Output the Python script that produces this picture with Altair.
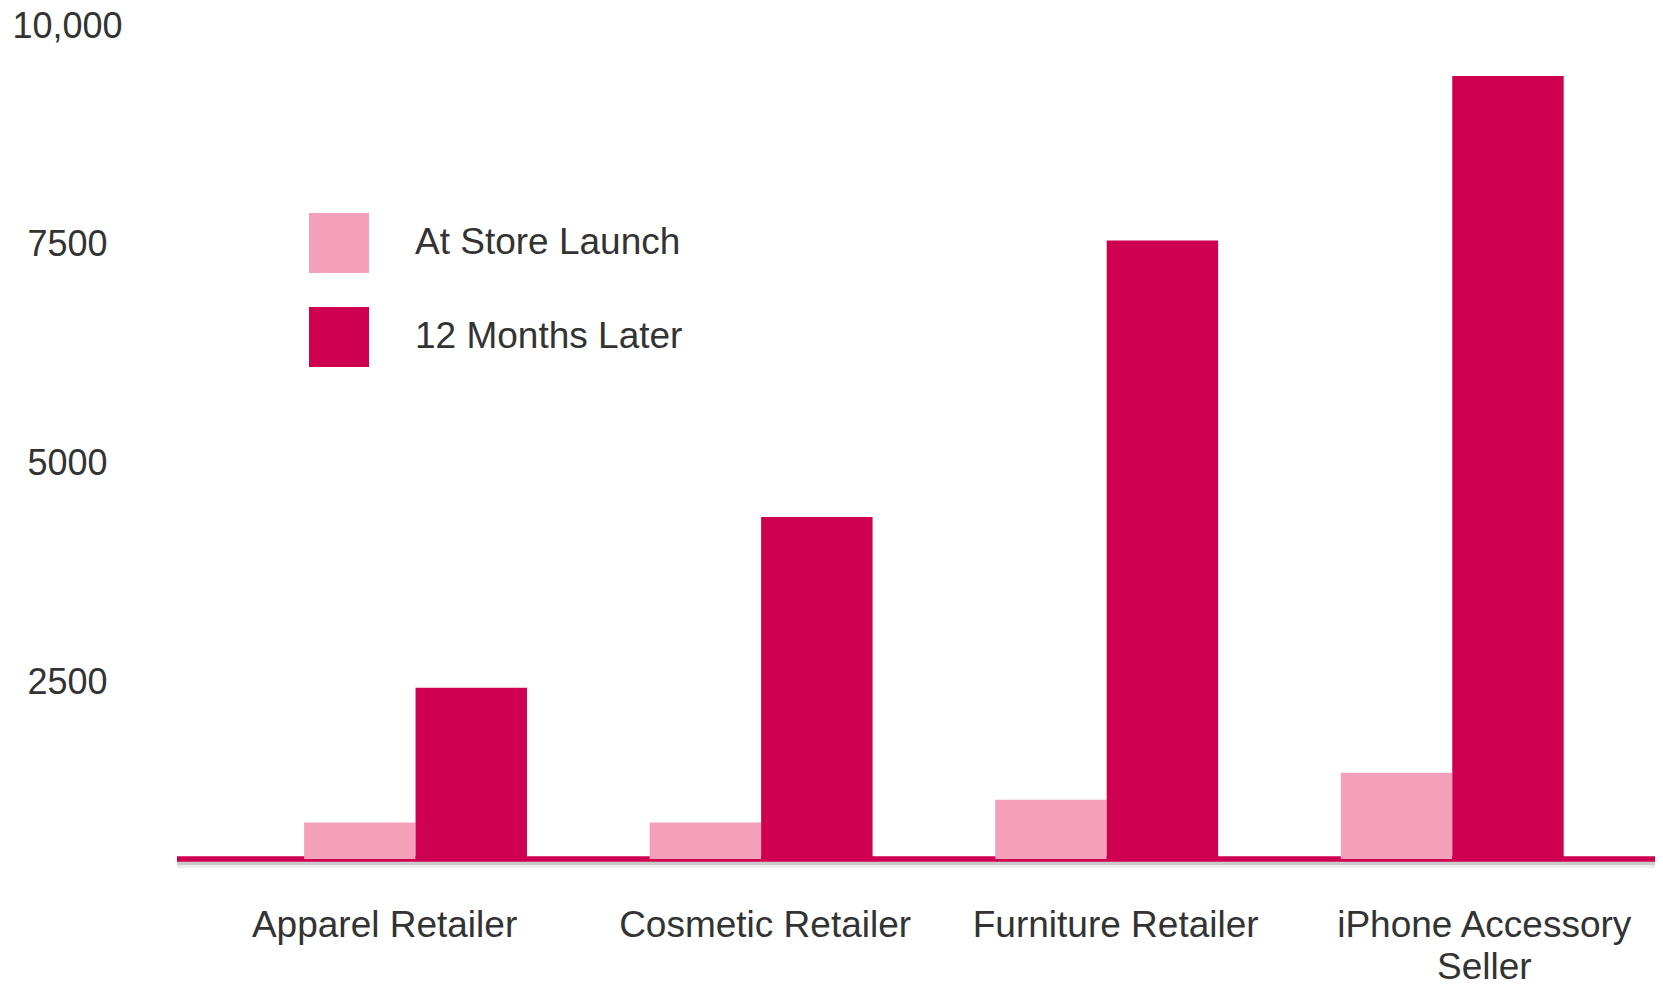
import altair as alt
import pandas as pd

# ---- data ----
categories = ["Apparel Retailer", "Cosmetic Retailer", "Furniture Retailer", "iPhone Accessory Seller"]
series = ["At Store Launch", "12 Months Later"]
at_launch = [900, 900, 1160, 1470]
after_12m = [2440, 4390, 7550, 9430]
y_ticks = [2500, 5000, 7500, 10000]
y_floor = 484
y_top = 10000
colors = ["#F5A0BB", "#CE004F"]

rows = []
for c, a, b in zip(categories, at_launch, after_12m):
    rows.append({"category": c, "series": series[0], "value": a})
    rows.append({"category": c, "series": series[1], "value": b})
df = pd.DataFrame(rows)
base_df = pd.DataFrame({"value": [y_floor]})

FONT = "Liberation Sans"
TXT = "#333333"

y_scale = alt.Scale(domain=[y_floor, y_top], zero=False, nice=False, clamp=True)
y_axis = alt.Axis(
    values=y_ticks,
    labelExpr="datum.value >= 10000 ? format(datum.value, ',') : format(datum.value, 'd')",
    domain=False, ticks=False, grid=False, tickSize=0,
    labelAlign="center", labelPadding=110,
    labelFont=FONT, labelFontSize=36, labelColor=TXT,
)
y_enc = alt.Y("value:Q", scale=y_scale, axis=y_axis, title=None)

x_axis = alt.Axis(
    domain=False, ticks=False, tickSize=0, grid=False, labelAngle=0,
    labelPadding=48.5, labelLimit=600,
    labelFont=FONT, labelFontSize=37, labelColor=TXT, labelLineHeight=41.5,
    labelExpr="datum.value == 'iPhone Accessory Seller' ? ['iPhone Accessory', 'Seller'] : datum.label",
    labelOffset={
        "condition": [
            {"test": "datum.value == 'Apparel Retailer'", "value": -31},
            {"test": "datum.value == 'Cosmetic Retailer'", "value": 4},
            {"test": "datum.value == 'Furniture Retailer'", "value": 9},
            {"test": "datum.value == 'iPhone Accessory Seller'", "value": 32},
        ],
        "value": 0,
    },
)

shadow_far = alt.Chart(base_df).mark_rule(color="#9a9a9a", strokeWidth=6, opacity=0.18, yOffset=6).encode(y=y_enc)
shadow_near = alt.Chart(base_df).mark_rule(color="#8a8a8a", strokeWidth=4, opacity=0.35, yOffset=4).encode(y=y_enc)
baseline = alt.Chart(base_df).mark_rule(color=colors[1], strokeWidth=5.5).encode(y=y_enc)

bars = alt.Chart(df).mark_bar().encode(
    x=alt.X("category:N", sort=categories, title=None, axis=x_axis,
            scale=alt.Scale(paddingInner=0.355, paddingOuter=0.316, align=0.582)),
    xOffset=alt.XOffset("series:N", sort=series, scale=alt.Scale(paddingInner=0, paddingOuter=0)),
    y=y_enc,
    color=alt.Color(
        "series:N",
        sort=series,
        scale=alt.Scale(domain=series, range=colors),
        legend=alt.Legend(
            title=None, orient="none", legendX=132, legendY=187, direction="vertical",
            symbolType="square", symbolSize=3600, symbolStrokeWidth=0, symbolOpacity=1,
            labelFont=FONT, labelFontSize=37, labelColor=TXT, labelOffset=46,
            rowPadding=34, padding=0, labelLimit=600,
        ),
    ),
)

chart = alt.layer(shadow_far, shadow_near, baseline, bars).properties(
    width=1478,
    height=833,
    autosize=alt.AutoSizeParams(type="none"),
    padding={"left": 169, "top": 18, "right": 0, "bottom": 130},
    background="white",
).configure_view(stroke=None)

chart.save("out.html", embed_options={"renderer": "svg", "actions": False})
